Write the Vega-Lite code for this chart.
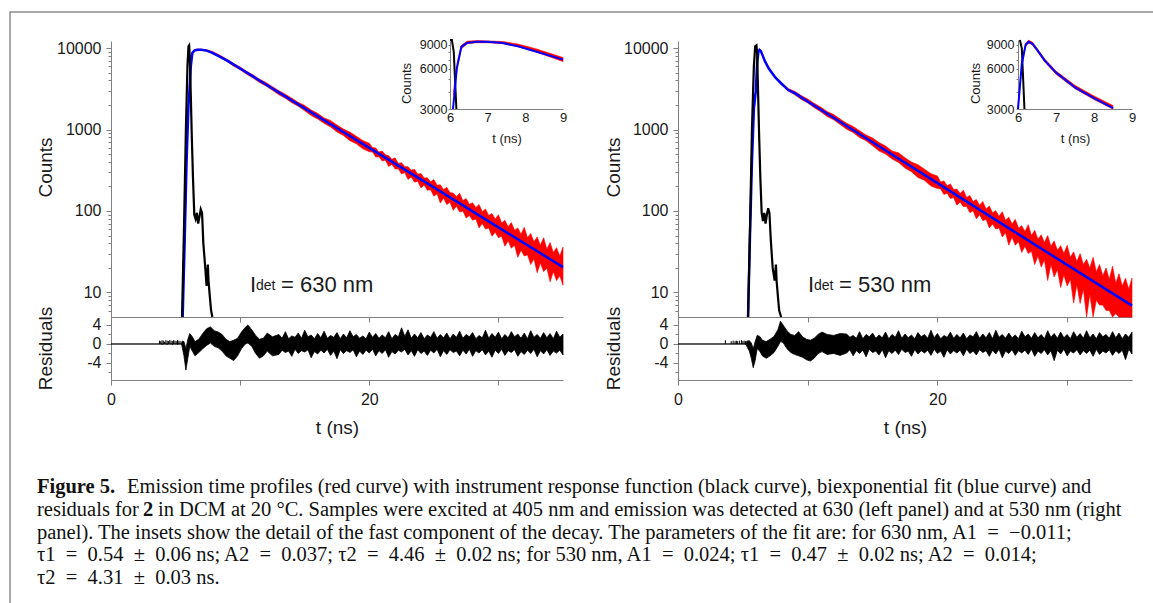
{
"$schema": "https://vega.github.io/schema/vega-lite/v6.json",
"width": 1146, "height": 594,
"autosize": {"type": "none"},
"padding": {"left": 10, "top": 12, "right": -3, "bottom": -3},
"background": "white",
"config": {
 "view": {"stroke": "#8c8c8c", "strokeWidth": 1.5},
 "font": "Liberation Sans",
 "axis": {"grid": false, "domainColor": "#7f7f7f", "tickColor": "#7f7f7f", "domainWidth": 1, "tickWidth": 1, "labelColor": "#1a1a1a", "titleColor": "#1a1a1a", "labelFont": "Liberation Sans", "titleFont": "Liberation Sans", "titleFontWeight": "normal", "labelFlush": false, "labelOverlap": false, "labelBound": false}
},
"datasets": {
 "L_red": [
  {"t":5.55,"c":5,"c2":5.5},{"t":5.7,"c":36,"c2":44},{"t":5.85,"c":370,"c2":430},{"t":6.0,"c":1900,"c2":2150},{"t":6.1,"c":3800,"c2":4200},{"t":6.2,"c":6300,"c2":6800},{"t":6.3,"c":8400,"c2":8900},{"t":6.45,"c":9200,"c2":9600},{"t":6.7,"c":9350,"c2":9700},{"t":7.0,"c":9350,"c2":9650},{"t":7.4,"c":9200,"c2":9550},{"t":7.8,"c":8750,"c2":9150},{"t":8.3,"c":7950,"c2":8400},
  {"t":9,"c":6766,"c2":7251},{"t":9.5,"c":5996,"c2":6463},{"t":10,"c":5406,"c2":5847},{"t":10.5,"c":4781,"c2":5198},{"t":11,"c":4276,"c2":4677},{"t":11.5,"c":3774,"c2":4153},{"t":12,"c":3417,"c2":3787},{"t":12.5,"c":3024,"c2":3357},{"t":13,"c":2672,"c2":2998},{"t":13.5,"c":2415,"c2":2718},{"t":14,"c":2128,"c2":2424},{"t":14.5,"c":1926,"c2":2157},{"t":15,"c":1694,"c2":1971},{"t":15.5,"c":1484,"c2":1742},{"t":16,"c":1349,"c2":1578},{"t":16.5,"c":1190,"c2":1389},{"t":17,"c":1075,"c2":1290},{"t":17.5,"c":934,"c2":1137},{"t":18,"c":842,"c2":1012},{"t":18.5,"c":730,"c2":929},{"t":19,"c":667,"c2":825},{"t":19.5,"c":579,"c2":731},{"t":20,"c":533,"c2":677},{"t":20.5,"c":460,"c2":595},{"t":21,"c":412,"c2":543},{"t":21.5,"c":352,"c2":476},{"t":22,"c":328,"c2":449},{"t":22.5,"c":284,"c2":392},{"t":23,"c":244,"c2":350},{"t":23.5,"c":226,"c2":325},{"t":24,"c":192,"c2":289},{"t":24.5,"c":180,"c2":255},{"t":25,"c":152,"c2":243},{"t":25.5,"c":125,"c2":210},{"t":26,"c":120,"c2":195},{"t":26.5,"c":102,"c2":166},{"t":27,"c":97,"c2":165},{"t":27.5,"c":82,"c2":142},{"t":28,"c":77,"c2":126},{"t":28.5,"c":62,"c2":120},{"t":29,"c":60,"c2":106},{"t":29.5,"c":49,"c2":93},{"t":30,"c":47,"c2":90},{"t":30.5,"c":37,"c2":77},{"t":31,"c":35,"c2":72},{"t":31.5,"c":27,"c2":62},{"t":32,"c":28,"c2":63},{"t":32.5,"c":22,"c2":53},{"t":33,"c":17.5,"c2":48},{"t":33.5,"c":18,"c2":47},{"t":34,"c":13.5,"c2":41},{"t":34.5,"c":14,"c2":35.5},{"t":35,"c":12.3,"c2":36},
  {"t":20.25,"c":529,"c2":600},{"t":20.75,"c":462,"c2":529},{"t":21.25,"c":421,"c2":489},{"t":21.75,"c":373,"c2":431},{"t":22.25,"c":330,"c2":384},{"t":22.75,"c":296,"c2":350},{"t":23.25,"c":262,"c2":316},{"t":23.75,"c":232,"c2":282},{"t":24.25,"c":208,"c2":254},{"t":24.75,"c":182,"c2":228},{"t":25.25,"c":163,"c2":207},{"t":25.75,"c":144,"c2":184},{"t":26.25,"c":128,"c2":168},{"t":26.75,"c":114,"c2":151},{"t":27.25,"c":100,"c2":134},{"t":27.75,"c":88,"c2":121},{"t":28.25,"c":80,"c2":110},{"t":28.75,"c":70,"c2":98},{"t":29.25,"c":62,"c2":88},{"t":29.75,"c":55,"c2":80},{"t":30.25,"c":49,"c2":71},{"t":30.75,"c":43,"c2":64},{"t":31.25,"c":38,"c2":58},{"t":31.75,"c":33,"c2":52},{"t":32.25,"c":29,"c2":47},{"t":32.75,"c":26,"c2":42},{"t":33.25,"c":23,"c2":38},{"t":33.75,"c":20,"c2":34},{"t":34.25,"c":18,"c2":31},{"t":34.75,"c":16,"c2":28}
 ],
 "L_fit": [
  {"t":5.55,"c":5},{"t":5.7,"c":40},{"t":5.85,"c":400},{"t":6.0,"c":2000},{"t":6.08,"c":3000},{"t":6.18,"c":6000},{"t":6.3,"c":8700},{"t":6.45,"c":9300},{"t":6.7,"c":9500},{"t":7.0,"c":9500},{"t":7.4,"c":9300},{"t":7.8,"c":8800},{"t":8.3,"c":8000},{"t":9.0,"c":7000},{"t":10,"c":5600},{"t":12,"c":3570},{"t":15,"c":1820},{"t":20,"c":595},{"t":25,"c":195},{"t":30,"c":63},{"t":35,"c":20.5}
 ],
 "L_irf": [
  {"t":5.5,"c":5},{"t":5.65,"c":60},{"t":5.8,"c":1000},{"t":5.92,"c":6000},{"t":6.0,"c":10500},{"t":6.05,"c":10800},{"t":6.1,"c":8000},{"t":6.17,"c":3000},{"t":6.25,"c":900},{"t":6.35,"c":250},{"t":6.45,"c":90},{"t":6.55,"c":80},{"t":6.65,"c":95},{"t":6.75,"c":70},{"t":6.85,"c":85},{"t":6.95,"c":105},{"t":7.05,"c":95},{"t":7.15,"c":40},{"t":7.3,"c":20},{"t":7.4,"c":12},{"t":7.5,"c":22},{"t":7.55,"c":14},{"t":7.65,"c":9},{"t":7.75,"c":6},{"t":7.85,"c":5}
 ],
 "L_res": [
  {"t":0,"lo":0,"hi":0},{"t":5.45,"lo":0,"hi":0},{"t":5.5,"lo":-0.5,"hi":0.6},{"t":5.65,"lo":-2.5,"hi":0.5},{"t":5.8,"lo":-5.5,"hi":-1.0},{"t":5.95,"lo":-3.0,"hi":1.0},{"t":6.1,"lo":-0.5,"hi":2.2},{"t":6.3,"lo":-1.5,"hi":1.5},{"t":6.5,"lo":-2.5,"hi":0.5},{"t":6.8,"lo":-1.8,"hi":1.0},{"t":7.1,"lo":-1.0,"hi":2.2},{"t":7.4,"lo":-0.3,"hi":3.2},{"t":7.7,"lo":0.2,"hi":3.6},{"t":8.0,"lo":-0.5,"hi":2.8},{"t":8.3,"lo":-0.8,"hi":2.5},{"t":8.6,"lo":-1.5,"hi":2.0},{"t":8.9,"lo":-2.5,"hi":1.0},{"t":9.2,"lo":-3.0,"hi":0.5},{"t":9.5,"lo":-3.5,"hi":0.8},{"t":9.8,"lo":-2.5,"hi":1.2},{"t":10.1,"lo":-1.0,"hi":2.5},{"t":10.4,"lo":0.0,"hi":3.5},{"t":10.6,"lo":0.2,"hi":4.0},{"t":10.9,"lo":-0.5,"hi":3.0},{"t":11.2,"lo":-2.0,"hi":1.8},{"t":11.5,"lo":-3.0,"hi":1.0},{"t":11.8,"lo":-2.5,"hi":1.2},{"t":12.1,"lo":-1.5,"hi":2.3},{"t":12.5,"lo":-2.5,"hi":1.5},
  {"t":13,"lo":-2.2,"hi":2.0},{"t":13.5,"lo":-1.8,"hi":2.6},{"t":14,"lo":-2.6,"hi":1.7},{"t":14.5,"lo":-2.0,"hi":2.3},{"t":15,"lo":-1.7,"hi":2.9},{"t":15.5,"lo":-2.9,"hi":1.9},{"t":16,"lo":-2.1,"hi":2.2},{"t":16.5,"lo":-1.9,"hi":2.7},{"t":17,"lo":-2.4,"hi":1.8},{"t":17.5,"lo":-3.1,"hi":2.4},{"t":18,"lo":-2.0,"hi":2.1},{"t":18.5,"lo":-1.8,"hi":2.8},{"t":19,"lo":-2.7,"hi":2.0},{"t":19.5,"lo":-2.2,"hi":1.7},{"t":20,"lo":-1.9,"hi":2.5},{"t":20.5,"lo":-2.5,"hi":2.2},{"t":21,"lo":-2.0,"hi":1.9},{"t":21.5,"lo":-2.8,"hi":2.6},{"t":22,"lo":-2.1,"hi":2.0},{"t":22.5,"lo":-1.7,"hi":3.4},{"t":23,"lo":-2.3,"hi":3.0},{"t":23.5,"lo":-2.6,"hi":2.1},{"t":24,"lo":-2.0,"hi":2.4},{"t":24.5,"lo":-2.4,"hi":1.9},{"t":25,"lo":-1.9,"hi":2.6},{"t":25.5,"lo":-2.7,"hi":2.0},{"t":26,"lo":-2.2,"hi":2.3},{"t":26.5,"lo":-1.8,"hi":2.1},{"t":27,"lo":-2.5,"hi":2.7},{"t":27.5,"lo":-2.1,"hi":2.0},{"t":28,"lo":-2.6,"hi":2.4},{"t":28.5,"lo":-1.9,"hi":1.8},{"t":29,"lo":-2.3,"hi":2.9},{"t":29.5,"lo":-2.8,"hi":2.2},{"t":30,"lo":-2.0,"hi":2.5},{"t":30.5,"lo":-2.4,"hi":2.0},{"t":31,"lo":-1.8,"hi":2.6},{"t":31.5,"lo":-2.6,"hi":2.1},{"t":32,"lo":-2.2,"hi":2.3},{"t":32.5,"lo":-2.0,"hi":2.8},{"t":33,"lo":-2.7,"hi":2.0},{"t":33.5,"lo":-2.1,"hi":2.4},{"t":34,"lo":-2.4,"hi":2.2},{"t":34.5,"lo":-1.9,"hi":2.7},{"t":35,"lo":-2.3,"hi":2.1},
  {"t":13.25,"lo":-1.3,"hi":1.2},{"t":13.75,"lo":-1.5,"hi":1.1},{"t":14.25,"lo":-1.1,"hi":1.4},{"t":14.75,"lo":-1.4,"hi":1.2},{"t":15.25,"lo":-1.2,"hi":1.5},{"t":15.75,"lo":-1.6,"hi":1.1},{"t":16.25,"lo":-1.3,"hi":1.3},{"t":16.75,"lo":-1.1,"hi":1.2},{"t":17.25,"lo":-1.5,"hi":1.4},{"t":17.75,"lo":-1.2,"hi":1.1},{"t":18.25,"lo":-1.4,"hi":1.3},{"t":18.75,"lo":-1.2,"hi":1.5},{"t":19.25,"lo":-1.5,"hi":1.2},{"t":19.75,"lo":-1.3,"hi":1.1},{"t":20.25,"lo":-1.1,"hi":1.4},{"t":20.75,"lo":-1.4,"hi":1.2},{"t":21.25,"lo":-1.2,"hi":1.3},{"t":21.75,"lo":-1.6,"hi":1.1},{"t":22.25,"lo":-1.3,"hi":1.5},{"t":22.75,"lo":-1.1,"hi":1.6},{"t":23.25,"lo":-1.4,"hi":1.2},{"t":23.75,"lo":-1.2,"hi":1.3},{"t":24.25,"lo":-1.5,"hi":1.1},{"t":24.75,"lo":-1.3,"hi":1.4},{"t":25.25,"lo":-1.1,"hi":1.2},{"t":25.75,"lo":-1.4,"hi":1.3},{"t":26.25,"lo":-1.2,"hi":1.1},{"t":26.75,"lo":-1.5,"hi":1.4},{"t":27.25,"lo":-1.3,"hi":1.2},{"t":27.75,"lo":-1.1,"hi":1.5},{"t":28.25,"lo":-1.4,"hi":1.1},{"t":28.75,"lo":-1.2,"hi":1.3},{"t":29.25,"lo":-1.5,"hi":1.2},{"t":29.75,"lo":-1.3,"hi":1.4},{"t":30.25,"lo":-1.1,"hi":1.1},{"t":30.75,"lo":-1.4,"hi":1.3},{"t":31.25,"lo":-1.2,"hi":1.5},{"t":31.75,"lo":-1.6,"hi":1.2},{"t":32.25,"lo":-1.3,"hi":1.1},{"t":32.75,"lo":-1.1,"hi":1.4},{"t":33.25,"lo":-1.4,"hi":1.2},{"t":33.75,"lo":-1.2,"hi":1.3},{"t":34.25,"lo":-1.5,"hi":1.1},{"t":34.75,"lo":-1.3,"hi":1.4}
 ],
 "L_bars": [
  {"t":3.75,"lo":0,"hi":0.7},{"t":3.85,"lo":0,"hi":0.6},{"t":3.95,"lo":-0.2,"hi":0.8},{"t":4.05,"lo":0,"hi":0.7},{"t":4.15,"lo":0,"hi":0.5},{"t":4.25,"lo":0,"hi":0.8},{"t":4.35,"lo":-0.2,"hi":0.7},{"t":4.45,"lo":0,"hi":0.6},{"t":4.55,"lo":0,"hi":0.8},{"t":4.65,"lo":0,"hi":0.7},{"t":4.75,"lo":-0.2,"hi":0.6},{"t":4.85,"lo":0,"hi":0.8},{"t":4.95,"lo":0,"hi":0.7},{"t":5.05,"lo":0,"hi":0.6},{"t":5.15,"lo":-0.2,"hi":0.8},{"t":5.25,"lo":0,"hi":0.7},{"t":5.35,"lo":0,"hi":0.6}
 ],
 "L_ann": [{"t":10.76,"c":10,"label":"= 630 nm"}],
 "R_red": [
  {"t":5.4,"c":5,"c2":5.5},{"t":5.55,"c":45,"c2":55},{"t":5.7,"c":370,"c2":430},{"t":5.85,"c":1700,"c2":1900},{"t":6.0,"c":2900,"c2":3150},{"t":6.1,"c":6300,"c2":6700},{"t":6.2,"c":8800,"c2":9300},{"t":6.28,"c":9300,"c2":9750},{"t":6.38,"c":9000,"c2":9450},{"t":6.5,"c":8100,"c2":8500},{"t":6.7,"c":6750,"c2":7100},{"t":7.0,"c":5450,"c2":5750},{"t":7.5,"c":4250,"c2":4500},{"t":8.0,"c":3530,"c2":3750},{"t":8.5,"c":2980,"c2":3180},
  {"t":9,"c":2665,"c2":2944},{"t":9.5,"c":2343,"c2":2611},{"t":10,"c":2117,"c2":2371},{"t":10.5,"c":1855,"c2":2094},{"t":11,"c":1654,"c2":1885},{"t":11.5,"c":1445,"c2":1663},{"t":12,"c":1315,"c2":1527},{"t":12.5,"c":1153,"c2":1343},{"t":13,"c":1009,"c2":1196},{"t":13.5,"c":916,"c2":1089},{"t":14,"c":798,"c2":967},{"t":14.5,"c":726,"c2":855},{"t":15,"c":631,"c2":789},{"t":15.5,"c":544,"c2":691},{"t":16,"c":499,"c2":628},{"t":16.5,"c":435,"c2":546},{"t":17,"c":395,"c2":517},{"t":17.5,"c":336,"c2":450},{"t":18,"c":303,"c2":398},{"t":18.5,"c":257,"c2":370},{"t":19,"c":238,"c2":326},{"t":19.5,"c":202,"c2":287},{"t":20,"c":189,"c2":269},{"t":20.5,"c":159,"c2":234},{"t":21,"c":142,"c2":215},{"t":21.5,"c":118,"c2":186},{"t":22,"c":113,"c2":180},{"t":22.5,"c":95,"c2":155},{"t":23,"c":80,"c2":138},{"t":23.5,"c":76,"c2":131},{"t":24,"c":62,"c2":115},{"t":24.5,"c":60,"c2":101},{"t":25,"c":48,"c2":98},{"t":25.5,"c":38,"c2":84},{"t":26,"c":38,"c2":79},{"t":26.5,"c":31,"c2":66},{"t":27,"c":30,"c2":68},{"t":27.5,"c":22,"c2":58},{"t":28,"c":20.5,"c2":51},{"t":28.5,"c":14,"c2":50},{"t":29,"c":15.5,"c2":43},{"t":29.5,"c":11.5,"c2":37.5},{"t":30,"c":12,"c2":38},{"t":30.5,"c":7.4,"c2":31.5},{"t":31,"c":7.3,"c2":30},{"t":31.5,"c":5,"c2":25.5},{"t":32,"c":5,"c2":27},{"t":32.5,"c":7,"c2":22},{"t":33,"c":6,"c2":20},{"t":33.5,"c":5,"c2":21},{"t":34,"c":5,"c2":17},{"t":34.5,"c":5,"c2":15},{"t":35,"c":5,"c2":15},
  {"t":20.25,"c":186,"c2":227},{"t":20.75,"c":165,"c2":204},{"t":21.25,"c":146,"c2":183},{"t":21.75,"c":129,"c2":164},{"t":22.25,"c":114,"c2":146},{"t":22.75,"c":101,"c2":131},{"t":23.25,"c":90,"c2":118},{"t":23.75,"c":79,"c2":106},{"t":24.25,"c":69,"c2":95},{"t":24.75,"c":62,"c2":86},{"t":25.25,"c":54,"c2":77},{"t":25.75,"c":48,"c2":69},{"t":26.25,"c":42,"c2":62},{"t":26.75,"c":37,"c2":56},{"t":27.25,"c":32,"c2":50},{"t":27.75,"c":28,"c2":45},{"t":28.25,"c":25,"c2":41},{"t":28.75,"c":22,"c2":37},{"t":29.25,"c":19,"c2":33},{"t":29.75,"c":16.5,"c2":30},{"t":30.25,"c":14.5,"c2":27},{"t":30.75,"c":12.5,"c2":24},{"t":31.25,"c":11,"c2":22},{"t":31.75,"c":9.5,"c2":20},{"t":32.25,"c":8,"c2":18},{"t":32.75,"c":7,"c2":16},{"t":33.25,"c":6,"c2":14.5},{"t":33.75,"c":5.5,"c2":13},{"t":34.25,"c":5,"c2":12},{"t":34.75,"c":5,"c2":11}
 ],
 "R_fit": [
  {"t":5.4,"c":5},{"t":5.55,"c":50},{"t":5.7,"c":400},{"t":5.85,"c":1800},{"t":6.0,"c":3000},{"t":6.1,"c":6500},{"t":6.2,"c":9000},{"t":6.28,"c":9500},{"t":6.38,"c":9200},{"t":6.5,"c":8300},{"t":6.7,"c":6900},{"t":7.0,"c":5600},{"t":7.5,"c":4350},{"t":8.0,"c":3620},{"t":8.5,"c":3050},{"t":9.0,"c":2800},{"t":10,"c":2211},{"t":12,"c":1393},{"t":15,"c":697},{"t":20,"c":220},{"t":25,"c":69},{"t":30,"c":21.8},{"t":35,"c":6.9}
 ],
 "R_irf": [
  {"t":5.4,"c":5},{"t":5.55,"c":60},{"t":5.7,"c":1000},{"t":5.85,"c":6000},{"t":5.95,"c":10500},{"t":6.05,"c":10800},{"t":6.1,"c":8500},{"t":6.17,"c":3000},{"t":6.25,"c":900},{"t":6.35,"c":250},{"t":6.45,"c":95},{"t":6.55,"c":75},{"t":6.65,"c":95},{"t":6.75,"c":70},{"t":6.85,"c":90},{"t":6.95,"c":108},{"t":7.05,"c":95},{"t":7.15,"c":45},{"t":7.3,"c":20},{"t":7.45,"c":14},{"t":7.55,"c":22},{"t":7.6,"c":14},{"t":7.7,"c":9},{"t":7.8,"c":6},{"t":7.95,"c":5}
 ],
 "R_res": [
  {"t":0,"lo":0,"hi":0},{"t":5.25,"lo":0,"hi":0},{"t":5.3,"lo":-0.5,"hi":0.6},{"t":5.5,"lo":-1.5,"hi":0.7},{"t":5.65,"lo":-3.0,"hi":0.2},{"t":5.8,"lo":-5.0,"hi":-1.0},{"t":5.95,"lo":-3.5,"hi":0.5},{"t":6.1,"lo":-1.0,"hi":1.8},{"t":6.3,"lo":-1.5,"hi":1.6},{"t":6.5,"lo":-2.5,"hi":0.8},{"t":6.8,"lo":-3.0,"hi":0.5},{"t":7.1,"lo":-2.5,"hi":1.0},{"t":7.4,"lo":-1.8,"hi":1.6},{"t":7.7,"lo":-0.5,"hi":3.0},{"t":7.9,"lo":0.5,"hi":4.8},{"t":8.1,"lo":0.3,"hi":4.0},{"t":8.4,"lo":-1.0,"hi":2.8},{"t":8.7,"lo":-1.8,"hi":2.0},{"t":9.0,"lo":-2.2,"hi":1.8},{"t":9.3,"lo":-2.5,"hi":2.6},{"t":9.6,"lo":-2.8,"hi":1.5},{"t":9.9,"lo":-3.3,"hi":1.0},{"t":10.2,"lo":-3.6,"hi":0.8},{"t":10.5,"lo":-3.0,"hi":1.2},{"t":10.8,"lo":-2.0,"hi":2.0},{"t":11.1,"lo":-1.6,"hi":2.5},{"t":11.5,"lo":-2.2,"hi":2.0},{"t":12,"lo":-2.0,"hi":1.8},{"t":12.5,"lo":-2.4,"hi":2.2},
  {"t":13,"lo":-1.9,"hi":2.1},{"t":13.5,"lo":-2.5,"hi":1.8},{"t":14,"lo":-2.0,"hi":2.6},{"t":14.5,"lo":-2.7,"hi":2.0},{"t":15,"lo":-1.8,"hi":2.3},{"t":15.5,"lo":-2.3,"hi":1.9},{"t":16,"lo":-2.9,"hi":2.5},{"t":16.5,"lo":-2.0,"hi":2.0},{"t":17,"lo":-2.2,"hi":2.8},{"t":17.5,"lo":-1.8,"hi":2.1},{"t":18,"lo":-2.6,"hi":1.9},{"t":18.5,"lo":-2.1,"hi":2.4},{"t":19,"lo":-1.9,"hi":2.0},{"t":19.5,"lo":-2.4,"hi":2.9},{"t":20,"lo":-2.0,"hi":2.2},{"t":20.5,"lo":-2.8,"hi":1.8},{"t":21,"lo":-2.1,"hi":2.5},{"t":21.5,"lo":-1.9,"hi":2.0},{"t":22,"lo":-2.5,"hi":2.3},{"t":22.5,"lo":-2.0,"hi":1.9},{"t":23,"lo":-2.3,"hi":2.6},{"t":23.5,"lo":-1.8,"hi":2.1},{"t":24,"lo":-2.6,"hi":2.4},{"t":24.5,"lo":-2.1,"hi":2.9},{"t":25,"lo":-2.9,"hi":2.0},{"t":25.5,"lo":-2.0,"hi":2.3},{"t":26,"lo":-2.4,"hi":1.9},{"t":26.5,"lo":-1.9,"hi":2.7},{"t":27,"lo":-2.2,"hi":2.1},{"t":27.5,"lo":-2.6,"hi":2.4},{"t":28,"lo":-2.0,"hi":2.0},{"t":28.5,"lo":-2.3,"hi":2.8},{"t":29,"lo":-3.5,"hi":2.2},{"t":29.5,"lo":-2.1,"hi":2.5},{"t":30,"lo":-2.5,"hi":2.0},{"t":30.5,"lo":-1.9,"hi":2.6},{"t":31,"lo":-2.3,"hi":2.2},{"t":31.5,"lo":-2.0,"hi":2.8},{"t":32,"lo":-2.6,"hi":2.1},{"t":32.5,"lo":-2.2,"hi":2.4},{"t":33,"lo":-1.9,"hi":2.0},{"t":33.5,"lo":-2.4,"hi":2.6},{"t":34,"lo":-2.0,"hi":2.3},{"t":34.5,"lo":-3.3,"hi":2.1},{"t":35,"lo":-2.1,"hi":2.5},
  {"t":13.25,"lo":-1.2,"hi":1.4},{"t":13.75,"lo":-1.4,"hi":1.2},{"t":14.25,"lo":-1.3,"hi":1.1},{"t":14.75,"lo":-1.1,"hi":1.5},{"t":15.25,"lo":-1.5,"hi":1.2},{"t":15.75,"lo":-1.2,"hi":1.3},{"t":16.25,"lo":-1.4,"hi":1.1},{"t":16.75,"lo":-1.3,"hi":1.4},{"t":17.25,"lo":-1.1,"hi":1.2},{"t":17.75,"lo":-1.5,"hi":1.3},{"t":18.25,"lo":-1.2,"hi":1.1},{"t":18.75,"lo":-1.4,"hi":1.5},{"t":19.25,"lo":-1.3,"hi":1.2},{"t":19.75,"lo":-1.1,"hi":1.3},{"t":20.25,"lo":-1.5,"hi":1.1},{"t":20.75,"lo":-1.2,"hi":1.4},{"t":21.25,"lo":-1.4,"hi":1.2},{"t":21.75,"lo":-1.3,"hi":1.3},{"t":22.25,"lo":-1.1,"hi":1.1},{"t":22.75,"lo":-1.5,"hi":1.5},{"t":23.25,"lo":-1.2,"hi":1.2},{"t":23.75,"lo":-1.4,"hi":1.3},{"t":24.25,"lo":-1.3,"hi":1.1},{"t":24.75,"lo":-1.1,"hi":1.4},{"t":25.25,"lo":-1.5,"hi":1.2},{"t":25.75,"lo":-1.2,"hi":1.3},{"t":26.25,"lo":-1.4,"hi":1.1},{"t":26.75,"lo":-1.3,"hi":1.5},{"t":27.25,"lo":-1.1,"hi":1.2},{"t":27.75,"lo":-1.5,"hi":1.3},{"t":28.25,"lo":-1.2,"hi":1.1},{"t":28.75,"lo":-1.4,"hi":1.4},{"t":29.25,"lo":-1.3,"hi":1.2},{"t":29.75,"lo":-1.1,"hi":1.3},{"t":30.25,"lo":-1.5,"hi":1.1},{"t":30.75,"lo":-1.2,"hi":1.4},{"t":31.25,"lo":-1.4,"hi":1.2},{"t":31.75,"lo":-1.3,"hi":1.3},{"t":32.25,"lo":-1.1,"hi":1.1},{"t":32.75,"lo":-1.5,"hi":1.5},{"t":33.25,"lo":-1.2,"hi":1.2},{"t":33.75,"lo":-1.4,"hi":1.3},{"t":34.25,"lo":-1.3,"hi":1.1},{"t":34.75,"lo":-1.1,"hi":1.4}
 ],
 "R_bars": [
  {"t":3.65,"lo":0,"hi":0.8},{"t":4.1,"lo":0,"hi":0.6},{"t":4.25,"lo":0,"hi":0.7},{"t":4.4,"lo":0,"hi":0.6},{"t":4.5,"lo":0,"hi":0.7},{"t":4.6,"lo":0,"hi":0.6},{"t":4.75,"lo":0,"hi":0.7},{"t":4.9,"lo":0,"hi":0.8},{"t":5.0,"lo":0,"hi":0.6},{"t":5.1,"lo":0,"hi":0.7},{"t":5.2,"lo":-0.2,"hi":0.6}
 ],
 "R_ann": [{"t":10.02,"c":10,"label":"= 530 nm"}],
 "caption": [
  {"line":1,"part":"b","text":"Figure 5."},
  {"line":1,"part":"r1","text":"Emission time profiles (red curve) with instrument response function (black curve), biexponential fit (blue curve) and"},
  {"line":2,"part":"a","text":"residuals for"},
  {"line":2,"part":"b2","text":"2"},
  {"line":2,"part":"c","text":"in DCM at 20 °C. Samples were excited at 405 nm and emission was detected at 630 (left panel) and at 530 nm (right"},
  {"line":3,"part":"p","text":"panel). The insets show the detail of the fast component of the decay. The parameters of the fit are: for 630 nm, A1\u2002=\u2002−0.011;"},
  {"line":4,"part":"p","text":"τ1\u2002=\u20020.54\u2002±\u20020.06 ns; A2\u2002=\u20020.037; τ2\u2002=\u20024.46\u2002±\u20020.02 ns; for 530 nm, A1\u2002=\u20020.024; τ1\u2002=\u20020.47\u2002±\u20020.02 ns; A2\u2002=\u20020.014;"},
  {"line":5,"part":"p","text":"τ2\u2002=\u20024.31\u2002±\u20020.03 ns."}
 ]
},
"layer": [
 {
  "encoding": {
   "x": {"field": "t", "type": "quantitative", "scale": {"domain": [0, 35], "range": [101, 553], "nice": false, "zero": false},
         "axis": {"orient": "bottom", "offset": -289, "values": [0, 10, 20, 30], "labels": false, "tickSize": 5, "title": null}},
   "y": {"field": "c", "type": "quantitative", "scale": {"type": "log", "domain": [5, 12200], "range": [305, 29], "nice": false},
         "axis": {"orient": "left", "offset": -101, "values": [6,7,8,9,10,20,30,40,50,60,70,80,90,100,200,300,400,500,600,700,800,900,1000,2000,3000,4000,5000,6000,7000,8000,9000,10000],
                  "labelExpr": "indexof([10,100,1000,10000], datum.value) >= 0 ? format(datum.value, 'd') : ''",
                  "tickSize": {"condition": {"test": "indexof([10,100,1000,10000], datum.value) >= 0", "value": 5}, "value": 3},
                  "labelPadding": 5, "labelFontSize": 16, "title": "Counts", "titleFontSize": 19, "titleX": -66, "titleY": 155, "titleAlign": "center", "titleBaseline": "middle"}}
  },
  "layer": [
   {"data": {"name": "L_red"}, "mark": {"type": "area", "color": "#ff0000", "stroke": "#ff0000", "strokeWidth": 0.6}, "encoding": {"y2": {"field": "c2"}}},
   {"data": {"name": "L_fit"}, "mark": {"type": "line", "color": "#0000ff", "strokeWidth": 2.5}, "encoding": {}},
   {"data": {"name": "L_irf"}, "mark": {"type": "line", "color": "#000000", "strokeWidth": 2.2}, "encoding": {}},
   {"data": {"name": "L_ann"}, "mark": {"type": "text", "text": "I", "align": "left", "baseline": "alphabetic", "fontSize": 22, "color": "#1a1a1a"}},
   {"data": {"name": "L_ann"}, "mark": {"type": "text", "text": "det", "align": "left", "baseline": "alphabetic", "fontSize": 14, "dx": 6, "dy": -2, "color": "#1a1a1a"}},
   {"data": {"name": "L_ann"}, "mark": {"type": "text", "align": "left", "baseline": "alphabetic", "fontSize": 22, "dx": 31, "color": "#1a1a1a"}, "encoding": {"text": {"field": "label"}}}
  ]
 },
 {
  "encoding": {
   "x": {"field": "t", "type": "quantitative", "scale": {"domain": [0, 35], "range": [101, 553], "nice": false, "zero": false},
         "axis": {"orient": "bottom", "offset": -226, "values": [0, 10, 20, 30], "labelExpr": "datum.value == 0 || datum.value == 20 ? datum.label : ''", "tickSize": 5, "labelPadding": 6, "labelFontSize": 16, "title": "t (ns)", "titleFontSize": 19, "titleY": 47, "titleBaseline": "middle"}},
   "y": {"field": "lo", "type": "quantitative", "scale": {"domain": [-7.58, 5.68], "range": [368, 305], "nice": false, "zero": false},
         "axis": {"orient": "left", "offset": -101, "values": [-6, -4, -2, 0, 2, 4], "labelExpr": "datum.value == 4 ? '4' : datum.value == 0 ? '0' : datum.value == -4 ? '-4' : ''",
                  "tickSize": {"condition": {"test": "datum.value % 4 == 0", "value": 5}, "value": 3},
                  "labelPadding": 5, "labelFontSize": 16, "title": "Residuals", "titleFontSize": 19, "titleX": -66, "titleY": 336, "titleAlign": "center", "titleBaseline": "middle"}}
  },
  "layer": [
   {"data": {"name": "L_res"}, "mark": {"type": "area", "color": "#000000", "stroke": "#000000", "strokeWidth": 0.8}, "encoding": {"y2": {"field": "hi"}}},
   {"data": {"name": "L_bars"}, "mark": {"type": "rule", "color": "#000000", "strokeWidth": 1}, "encoding": {"y2": {"field": "hi"}}}
  ]
 },
 {
  "encoding": {
   "x": {"field": "t", "type": "quantitative", "scale": {"domain": [6, 9], "range": [440, 553], "nice": false, "zero": false},
         "axis": {"orient": "bottom", "offset": -497, "values": [6, 7, 8, 9], "format": "d", "tickSize": 0, "labelPadding": 2, "labelFontSize": 13, "title": "t (ns)", "titleFontSize": 13, "titleY": 29, "titleBaseline": "middle"}},
   "y": {"field": "c", "type": "quantitative", "scale": {"type": "log", "domain": [3000, 9800], "range": [97, 28], "nice": false, "clamp": true},
         "axis": {"orient": "left", "offset": -440, "values": [3000, 4000, 5000, 6000, 7000, 8000, 9000], "labelExpr": "datum.value % 3000 == 0 ? format(datum.value, 'd') : ''", "tickSize": 2, "labelPadding": 1, "labelFontSize": 12.5, "title": "Counts", "titleFontSize": 13, "titleX": -44, "titleY": 71, "titleAlign": "center", "titleBaseline": "middle"}}
  },
  "layer": [
   {"data": {"name": "L_red"}, "transform": [{"filter": "datum.t >= 6.1 && datum.t <= 9"}], "mark": {"type": "area", "color": "#ff0000", "stroke": "#ff0000", "strokeWidth": 0.6}, "encoding": {"y2": {"field": "c2"}}},
   {"data": {"name": "L_irf"}, "transform": [{"filter": "datum.t >= 5.99 && datum.t <= 9 && datum.c >= 3000"}], "mark": {"type": "line", "color": "#000000", "strokeWidth": 2}, "encoding": {}},
   {"data": {"name": "L_fit"}, "transform": [{"filter": "datum.t >= 6 && datum.t <= 9 && datum.c >= 3000"}], "mark": {"type": "line", "color": "#0000ff", "strokeWidth": 2}, "encoding": {}}
  ]
 },
 {
  "encoding": {
   "x": {"field": "t", "type": "quantitative", "scale": {"domain": [0, 35], "range": [668, 1122], "nice": false, "zero": false},
         "axis": {"orient": "bottom", "offset": -289, "values": [0, 10, 20, 30], "labels": false, "tickSize": 5, "title": null}},
   "y": {"field": "c", "type": "quantitative", "scale": {"type": "log", "domain": [5, 12200], "range": [305, 29], "nice": false},
         "axis": {"orient": "left", "offset": -668, "values": [6,7,8,9,10,20,30,40,50,60,70,80,90,100,200,300,400,500,600,700,800,900,1000,2000,3000,4000,5000,6000,7000,8000,9000,10000],
                  "labelExpr": "indexof([10,100,1000,10000], datum.value) >= 0 ? format(datum.value, 'd') : ''",
                  "tickSize": {"condition": {"test": "indexof([10,100,1000,10000], datum.value) >= 0", "value": 5}, "value": 3},
                  "labelPadding": 5, "labelFontSize": 16, "title": "Counts", "titleFontSize": 19, "titleX": -65, "titleY": 155, "titleAlign": "center", "titleBaseline": "middle"}}
  },
  "layer": [
   {"data": {"name": "R_red"}, "mark": {"type": "area", "color": "#ff0000", "stroke": "#ff0000", "strokeWidth": 0.6}, "encoding": {"y2": {"field": "c2"}}},
   {"data": {"name": "R_fit"}, "mark": {"type": "line", "color": "#0000ff", "strokeWidth": 2.5}, "encoding": {}},
   {"data": {"name": "R_irf"}, "mark": {"type": "line", "color": "#000000", "strokeWidth": 2.2}, "encoding": {}},
   {"data": {"name": "R_ann"}, "mark": {"type": "text", "text": "I", "align": "left", "baseline": "alphabetic", "fontSize": 22, "color": "#1a1a1a"}},
   {"data": {"name": "R_ann"}, "mark": {"type": "text", "text": "det", "align": "left", "baseline": "alphabetic", "fontSize": 14, "dx": 6, "dy": -2, "color": "#1a1a1a"}},
   {"data": {"name": "R_ann"}, "mark": {"type": "text", "align": "left", "baseline": "alphabetic", "fontSize": 22, "dx": 31, "color": "#1a1a1a"}, "encoding": {"text": {"field": "label"}}}
  ]
 },
 {
  "encoding": {
   "x": {"field": "t", "type": "quantitative", "scale": {"domain": [0, 35], "range": [668, 1122], "nice": false, "zero": false},
         "axis": {"orient": "bottom", "offset": -226, "values": [0, 10, 20, 30], "labelExpr": "datum.value == 0 || datum.value == 20 ? datum.label : ''", "tickSize": 5, "labelPadding": 6, "labelFontSize": 16, "title": "t (ns)", "titleFontSize": 19, "titleY": 47, "titleBaseline": "middle"}},
   "y": {"field": "lo", "type": "quantitative", "scale": {"domain": [-7.58, 5.68], "range": [368, 305], "nice": false, "zero": false},
         "axis": {"orient": "left", "offset": -668, "values": [-6, -4, -2, 0, 2, 4], "labelExpr": "datum.value == 4 ? '4' : datum.value == 0 ? '0' : datum.value == -4 ? '-4' : ''",
                  "tickSize": {"condition": {"test": "datum.value % 4 == 0", "value": 5}, "value": 3},
                  "labelPadding": 5, "labelFontSize": 16, "title": "Residuals", "titleFontSize": 19, "titleX": -65, "titleY": 336, "titleAlign": "center", "titleBaseline": "middle"}}
  },
  "layer": [
   {"data": {"name": "R_res"}, "mark": {"type": "area", "color": "#000000", "stroke": "#000000", "strokeWidth": 0.8}, "encoding": {"y2": {"field": "hi"}}},
   {"data": {"name": "R_bars"}, "mark": {"type": "rule", "color": "#000000", "strokeWidth": 1}, "encoding": {"y2": {"field": "hi"}}}
  ]
 },
 {
  "encoding": {
   "x": {"field": "t", "type": "quantitative", "scale": {"domain": [6, 9], "range": [1008, 1122], "nice": false, "zero": false},
         "axis": {"orient": "bottom", "offset": -497, "values": [6, 7, 8, 9], "format": "d", "tickSize": 0, "labelPadding": 2, "labelFontSize": 13, "title": "t (ns)", "titleFontSize": 13, "titleY": 29, "titleBaseline": "middle"}},
   "y": {"field": "c", "type": "quantitative", "scale": {"type": "log", "domain": [3000, 9800], "range": [97, 28], "nice": false, "clamp": true},
         "axis": {"orient": "left", "offset": -1008, "values": [3000, 4000, 5000, 6000, 7000, 8000, 9000], "labelExpr": "datum.value % 3000 == 0 ? format(datum.value, 'd') : ''", "tickSize": 2, "labelPadding": 2, "labelFontSize": 12.5, "title": "Counts", "titleFontSize": 13, "titleX": -43, "titleY": 71, "titleAlign": "center", "titleBaseline": "middle"}}
  },
  "layer": [
   {"data": {"name": "R_red"}, "transform": [{"filter": "datum.t >= 6 && datum.t <= 8.5"}], "mark": {"type": "area", "color": "#ff0000", "stroke": "#ff0000", "strokeWidth": 0.6}, "encoding": {"y2": {"field": "c2"}}},
   {"data": {"name": "R_irf"}, "transform": [{"filter": "datum.t >= 5.99 && datum.t <= 9 && datum.c >= 3000"}], "mark": {"type": "line", "color": "#000000", "strokeWidth": 2}, "encoding": {}},
   {"data": {"name": "R_fit"}, "transform": [{"filter": "datum.t >= 6 && datum.t <= 9 && datum.c >= 3000"}], "mark": {"type": "line", "color": "#0000ff", "strokeWidth": 2}, "encoding": {}}
  ]
 },
 {
  "data": {"name": "caption"},
  "encoding": {
   "x": {"datum": 0, "type": "quantitative", "scale": {"domain": [0, 1], "range": [27, 1127]}, "axis": null},
   "y": {"field": "line", "type": "quantitative", "scale": {"domain": [1, 5], "range": [481, 572]}, "axis": null},
   "text": {"field": "text"}
  },
  "layer": [
   {"transform": [{"filter": "datum.part == 'b'"}], "mark": {"type": "text", "font": "Liberation Serif", "fontSize": 20.5, "fontWeight": "bold", "align": "left", "baseline": "alphabetic", "color": "#111111"}},
   {"transform": [{"filter": "datum.part == 'r1'"}], "mark": {"type": "text", "font": "Liberation Serif", "fontSize": 20.5, "align": "left", "baseline": "alphabetic", "dx": 90, "color": "#111111"}},
   {"transform": [{"filter": "datum.part == 'a'"}], "mark": {"type": "text", "font": "Liberation Serif", "fontSize": 20.5, "align": "left", "baseline": "alphabetic", "color": "#111111"}},
   {"transform": [{"filter": "datum.part == 'b2'"}], "mark": {"type": "text", "font": "Liberation Serif", "fontSize": 20.5, "fontWeight": "bold", "align": "left", "baseline": "alphabetic", "dx": 106, "color": "#111111"}},
   {"transform": [{"filter": "datum.part == 'c'"}], "mark": {"type": "text", "font": "Liberation Serif", "fontSize": 20.5, "align": "left", "baseline": "alphabetic", "dx": 121, "color": "#111111"}},
   {"transform": [{"filter": "datum.part == 'p'"}], "mark": {"type": "text", "font": "Liberation Serif", "fontSize": 20.5, "align": "left", "baseline": "alphabetic", "color": "#111111"}}
  ]
 }
],
"resolve": {"scale": {"x": "independent", "y": "independent"}}
}
